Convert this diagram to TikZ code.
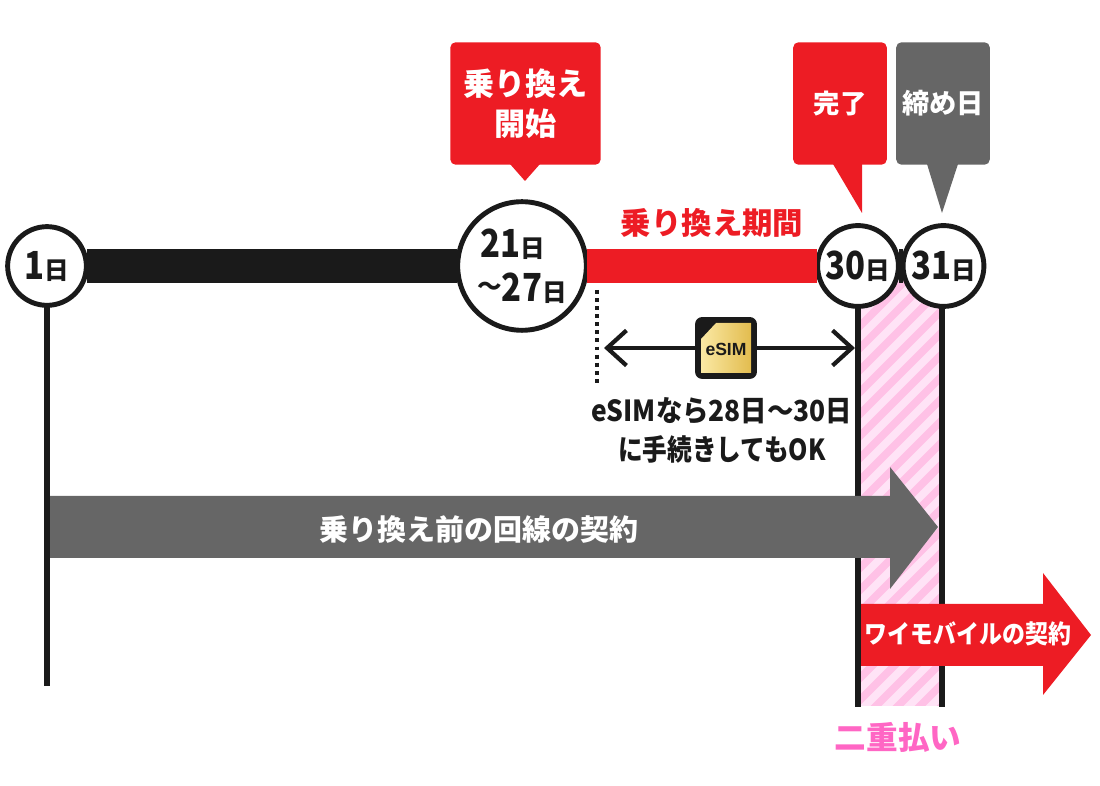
\documentclass[tikz,border=0pt]{standalone}
\usepackage{fontspec}
\setmainfont{Noto Sans CJK JP}
\newfontfamily\chipfont{Liberation Sans}
\usetikzlibrary{arrows.meta}
\definecolor{mainred}{HTML}{ED1C24}
\definecolor{darkgray}{HTML}{666666}
\definecolor{inkblack}{HTML}{1A1A1A}
\definecolor{palepink}{HTML}{FFE3F6}
\definecolor{stripepink}{HTML}{FFC1E6}
\definecolor{labelpink}{HTML}{FF66C4}
\definecolor{goldlight}{HTML}{FBE9A4}
\definecolor{golddark}{HTML}{E2BC4F}
\newcommand{\fsz}[1]{\fontsize{#1}{#1}\selectfont}
\newcommand{\narrow}[1]{\addfontfeature{FakeStretch=#1}}
\newcommand{\dayno}[2]{{\fsz{22}\narrow{.85}#1}{\fsz{14}#2}}
\newcommand{\wavemark}{\raisebox{3pt}{\fsz{14}〜}}
\tikzset{
  daycircle/.style={circle,draw=inkblack,fill=white,line width=2.8pt,inner sep=0pt,text=inkblack,font=\bfseries,align=center},
  callout/.style={rounded corners=3pt,inner sep=0pt,text=white,font=\bfseries,align=center},
  barline/.style={line width=19.3pt,shorten <=-1.1pt,shorten >=-1.1pt},
  rail/.style={draw=inkblack,line width=3.4pt},
  spanarrow/.style={{Straight Barb[length=11pt,width=20pt,line width=2.4pt]}-,draw=inkblack,line width=2.4pt},
  note/.style={inner sep=0pt,text=inkblack}
}
\begin{document}
\begin{tikzpicture}[x=.02cm,y=-.02cm]
\useasboundingbox (0,0) rectangle (1100,786);

\begin{scope}
\clip (858,280) rectangle (942,706);
\fill[palepink] (858,280) rectangle (942,706);
\foreach \s in {400,422,...,1000}
\draw[stripepink,line width=4.4pt] (\s,720) -- ++(450,-450);
\end{scope}

\coordinate (r30a) at (858,300);
\coordinate (r30b) at (858,707);
\coordinate (r31a) at (942,300);
\coordinate (r31b) at (942,707);
\coordinate (r1a) at (47,300);
\coordinate (r1b) at (47,686);
\foreach \from/\to in {r1a/r1b,r30a/r30b,r31a/r31b}
\draw[rail] (\from) -- (\to);

\node[daycircle,minimum size=44.8pt] (d1) at (47,266) {\dayno{1}{日}};
\node[daycircle,minimum size=73.2pt] (d21) at (522,266) {\hspace*{-10pt}\dayno{21}{日}\\[6.5pt]\wavemark\dayno{27}{日}};
\node[daycircle,minimum size=46pt] (d30) at (858,266) {\dayno{30}{日}};
\node[daycircle,minimum size=46pt] (d31) at (943.5,266) {\dayno{31}{日}};
\draw[barline,inkblack] (d1) -- (d21);
\draw[barline,mainred] (d21) -- (d30);
\draw[barline,inkblack] (d30) -- (d31);

\node[callout,fill=mainred,minimum width=85.6pt,minimum height=69.7pt,font=\bfseries\fsz{17.7}] (bstart) at (525.5,103.5) {乗り換え\\[5pt]開始};
\node[callout,fill=mainred,minimum width=53.3pt,minimum height=69.7pt,font=\bfseries\fsz{15}] (bdone) at (840,103.5) {\raisebox{-1pt}{完了}};
\node[callout,fill=darkgray,minimum width=53.3pt,minimum height=69.7pt,font=\bfseries\fsz{15.5}] (bclose) at (943,103.5) {\raisebox{-1pt}{締め日}};
\fill[mainred] (510,164) -- (525,181) -- (540,164) -- cycle;
\fill[mainred] (833,164) -- (862,213) -- (862,164) -- cycle;
\fill[darkgray] (927,164) -- (942,213) -- (958,164) -- cycle;

\node[note,text=mainred,font=\bfseries\fsz{17.3}] (period) at (712,223) {乗り換え期間};

\coordinate (dot1) at (597,290);
\coordinate (dot2) at (597,386);
\draw[inkblack,line width=2pt,dash pattern=on 2.2pt off 2.4pt] (dot1) -- (dot2);

\coordinate (sl) at (604,348);
\coordinate (sr) at (855,348);
\node[fill=inkblack,rounded corners=4pt,minimum size=35.2pt,inner sep=0pt] (chip) at (726,348) {};
\draw[spanarrow] (sl) -- (chip);
\draw[spanarrow] (sr) -- (chip);
\fill[left color=goldlight,right color=golddark] (716,323) -- (751,323) -- (751,373) -- (701,373) -- (701,339) -- cycle;
\node[inner sep=0pt,text=inkblack,font=\chipfont\bfseries\fsz{10}] (chiptext) at (726,349) {eSIM};

\node[note,font=\bfseries\fsz{16.5}\narrow{.91}] (note1) at (722,411) {eSIMなら28日〜30日};
\node[note,font=\bfseries\fsz{16.5}\narrow{.85}] (note2) at (722,449) {に手続きしてもOK};

\fill[darkgray] (50,496) -- (890,496) -- (890,467) -- (938,527) -- (890,589) -- (890,558) -- (50,558) -- cycle;
\node[inner sep=0pt,text=white,font=\bfseries\fsz{16.5}] (oldline) at (479,529) {乗り換え前の回線の契約};

\fill[mainred] (861,604) -- (1043,604) -- (1043,573) -- (1091,635) -- (1043,695) -- (1043,666) -- (861,666) -- cycle;
\node[inner sep=0pt,text=white,font=\bfseries\fsz{14.5}\narrow{.9}] (newline) at (968,634) {ワイモバイルの契約};

\node[inner sep=0pt,text=labelpink,font=\bfseries\fsz{18}] (dual) at (898,737) {二重払い};
\end{tikzpicture}
\end{document}
